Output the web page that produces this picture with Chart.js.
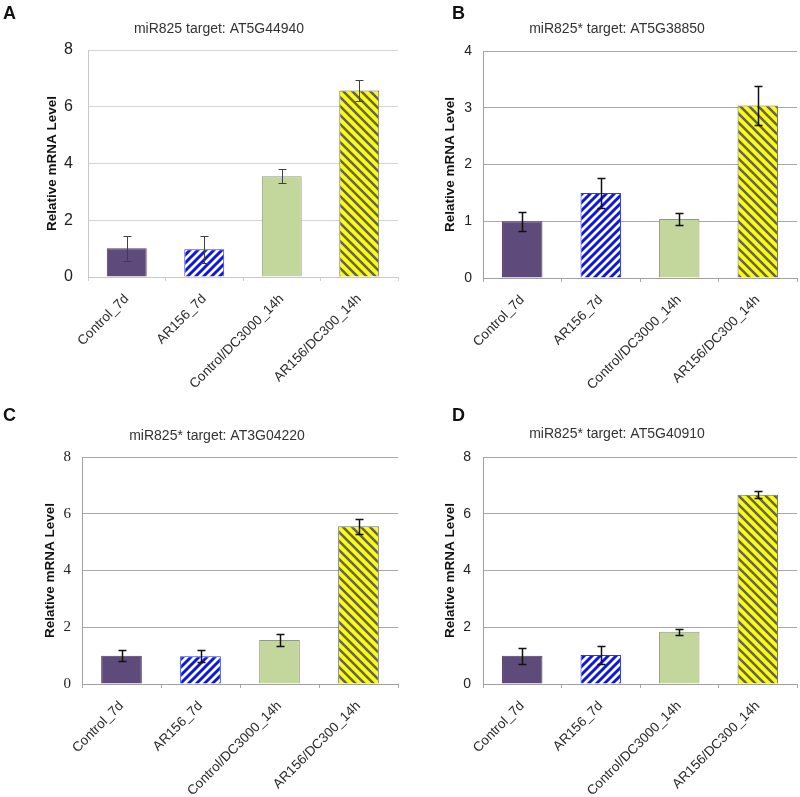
<!DOCTYPE html>
<html>
<head>
<meta charset="utf-8">
<script src="https://cdn.jsdelivr.net/npm/chart.js@4"></script>
<style>
  html, body { margin: 0; padding: 0; background: #ffffff; }
  #wrap { position: relative; width: 800px; height: 797px; background: #fff; }
  .panel { position: absolute; }
  .letter { position: absolute; font-family: "Liberation Sans", Arial, sans-serif; font-weight: bold; font-size: 18px; line-height: 18px; color: #111; }
</style>
</head>
<body>
<div id="wrap">
  <div class="panel" style="left:0;top:0;"><canvas id="cA" width="400" height="398"></canvas></div>
  <div class="panel" style="left:400px;top:0;"><canvas id="cB" width="400" height="398"></canvas></div>
  <div class="panel" style="left:0;top:400px;"><canvas id="cC" width="400" height="397"></canvas></div>
  <div class="panel" style="left:400px;top:400px;"><canvas id="cD" width="400" height="397"></canvas></div>
  <div class="letter" style="left:3px;top:4px;">A</div>
  <div class="letter" style="left:452px;top:4px;">B</div>
  <div class="letter" style="left:3px;top:406px;">C</div>
  <div class="letter" style="left:452px;top:406px;">D</div>
</div>
<script>
// ---- data ----
const categories = ['Control_7d', 'AR156_7d', 'Control/DC3000_14h', 'AR156/DC300_14h'];
const titleA = 'miR825 target: AT5G44940';
const titleB = 'miR825* target: AT5G38850';
const titleC = 'miR825* target: AT3G04220';
const titleD = 'miR825* target: AT5G40910';
const valuesA = [1.01, 0.98, 3.55, 6.57];
const errorsA = [0.45, 0.47, 0.25, 0.36];
const valuesB = [1.00, 1.50, 1.04, 3.04];
const errorsB = [0.17, 0.27, 0.10, 0.34];
const valuesC = [1.00, 0.98, 1.55, 5.56];
const errorsC = [0.19, 0.21, 0.20, 0.26];
const valuesD = [1.00, 1.02, 1.84, 6.67];
const errorsD = [0.28, 0.33, 0.10, 0.13];
const yMaxA = 8, yStepA = 2;
const yMaxB = 4, yStepB = 1;
const yMaxC = 8, yStepC = 2;
const yMaxD = 8, yStepD = 2;
const yAxisTitle = 'Relative mRNA Level';

// ---- patterns ----
function stripePattern(bg, fg, dir, lw, s) {
  const c = document.createElement('canvas');
  c.width = s; c.height = s;
  const g = c.getContext('2d');
  g.fillStyle = bg; g.fillRect(0, 0, s, s);
  g.strokeStyle = fg; g.lineWidth = lw; g.lineCap = 'butt';
  g.beginPath();
  if (dir === '/') {
    g.moveTo(-2, 2); g.lineTo(2, -2);
    g.moveTo(-1, s + 1); g.lineTo(s + 1, -1);
    g.moveTo(s - 2, s + 2); g.lineTo(s + 2, s - 2);
  } else {
    g.moveTo(-1, -1); g.lineTo(s + 1, s + 1);
    g.moveTo(-2, s - 2); g.lineTo(2, s + 2);
    g.moveTo(s - 2, -2); g.lineTo(s + 2, 2);
  }
  g.stroke();
  return document.createElement('canvas').getContext('2d').createPattern(c, 'repeat');
}
const bluePat = stripePattern('#ffffff', '#0a14f0', '/', 2.9, 8);
const yellowPat = stripePattern('#ffff00', '#626262', '\\', 2.6, 9);
const fills = ['#5f4a7c', bluePat, '#c3d69b', yellowPat];
const borders = ['#4e3d68', '#2a3ad8', '#8f9c7a', '#707060'];

// ---- error bars plugin ----
const errorBars = {
  id: 'errorBars',
  afterDatasetsDraw(chart, args, opts) {
    const meta = chart.getDatasetMeta(0);
    const ys = chart.scales.y;
    const vals = chart.data.datasets[0].data;
    const ctx = chart.ctx;
    ctx.save();
    ctx.strokeStyle = opts.color;
    ctx.lineWidth = opts.width;
    meta.data.forEach((bar, i) => {
      const v = vals[i], e = opts.errors[i];
      const x = Math.round(bar.x) + 0.5;
      const yt = Math.round(ys.getPixelForValue(v + e)) + 0.5;
      const yb = Math.round(ys.getPixelForValue(v - e)) + 0.5;
      ctx.beginPath();
      ctx.moveTo(x, yt); ctx.lineTo(x, yb);
      ctx.moveTo(x - opts.cap, yt); ctx.lineTo(x + opts.cap, yt);
      ctx.moveTo(x - opts.cap, yb); ctx.lineTo(x + opts.cap, yb);
      ctx.stroke();
    });
    ctx.restore();
  }
};

function makeChart(id, p) {
  return new Chart(document.getElementById(id), {
    type: 'bar',
    data: {
      labels: categories,
      datasets: [{
        data: p.values,
        backgroundColor: fills,
        borderColor: borders,
        borderWidth: 1,
        categoryPercentage: 1.0,
        barPercentage: 0.515
      }]
    },
    options: {
      responsive: false,
      animation: false,
      devicePixelRatio: 1,
      layout: { padding: { left: p.padLeft, right: p.padRight, top: 0, bottom: 0 } },
      plugins: {
        legend: { display: false },
        tooltip: { enabled: false },
        title: {
          display: true,
          text: p.title,
          color: '#333333',
          font: { family: '"Liberation Sans", Arial, sans-serif', size: 14, weight: 'normal', lineHeight: 1.2 },
          padding: { top: p.titleTop, bottom: p.titleBottom }
        },
        errorBars: { errors: p.errors, color: p.errColor, width: p.errWidth, cap: 4 }
      },
      scales: {
        x: {
          grid: { display: true, drawOnChartArea: false, drawTicks: true, tickLength: 4, color: p.gridColor, offset: true },
          border: { display: true, color: p.axisColor },
          ticks: {
            maxRotation: 45, minRotation: 45, autoSkip: false, padding: 10,
            color: '#2a2a2a',
            font: { family: '"Liberation Sans", Arial, sans-serif', size: 13.5 }
          },
          afterFit(scale) { scale.height = p.xHeight; }
        },
        y: {
          min: 0, max: p.yMax,
          grid: { color: p.gridColor, drawTicks: false, lineWidth: 1 },
          border: { display: true, color: p.axisColor },
          ticks: {
            stepSize: p.yStep, padding: p.tickPad, color: '#222222',
            font: { family: p.tickFamily, size: p.tickSize }
          },
          title: {
            display: true, text: yAxisTitle, color: '#111111',
            font: { family: '"Liberation Sans", Arial, sans-serif', size: 13.5, weight: 'bold', lineHeight: 1.2 },
            padding: { top: p.yTitlePad, bottom: 0 }
          },
          afterFit(scale) { scale.width = p.yWidth; }
        }
      }
    },
    plugins: [errorBars]
  });
}

makeChart('cA', {
  values: valuesA, errors: errorsA, title: titleA, yMax: yMaxA, yStep: yStepA,
  padLeft: 40, padRight: 2, yWidth: 48, xHeight: 121, titleTop: 20.6, titleBottom: 12.6,
  yTitlePad: 3.7, tickPad: 15, tickSize: 16, tickFamily: '"Liberation Sans", Arial, sans-serif',
  gridColor: '#d4d4d4', axisColor: '#c8c8c8', errColor: '#404040', errWidth: 1
});
makeChart('cB', {
  values: valuesB, errors: errorsB, title: titleB, yMax: yMaxB, yStep: yStepB,
  padLeft: 37, padRight: 3, yWidth: 46, xHeight: 120, titleTop: 20.6, titleBottom: 13.6,
  yTitlePad: 5, tickPad: 11, tickSize: 14, tickFamily: '"Liberation Sans", Arial, sans-serif',
  gridColor: '#a8a8a8', axisColor: '#a0a0a0', errColor: '#111111', errWidth: 1.5
});
makeChart('cC', {
  values: valuesC, errors: errorsC, title: titleC, yMax: yMaxC, yStep: yStepC,
  padLeft: 36, padRight: 2, yWidth: 46, xHeight: 113, titleTop: 27.6, titleBottom: 12.6,
  yTitlePad: 6, tickPad: 11, tickSize: 15, tickFamily: '"Liberation Serif", "Times New Roman", serif',
  gridColor: '#a8a8a8', axisColor: '#a0a0a0', errColor: '#111111', errWidth: 1.5
});
makeChart('cD', {
  values: valuesD, errors: errorsD, title: titleD, yMax: yMaxD, yStep: yStepD,
  padLeft: 37, padRight: 3, yWidth: 46, xHeight: 113, titleTop: 25.6, titleBottom: 14.6,
  yTitlePad: 5, tickPad: 12, tickSize: 14, tickFamily: '"Liberation Sans", Arial, sans-serif',
  gridColor: '#a8a8a8', axisColor: '#a0a0a0', errColor: '#111111', errWidth: 1.5
});
</script>
</body>
</html>
